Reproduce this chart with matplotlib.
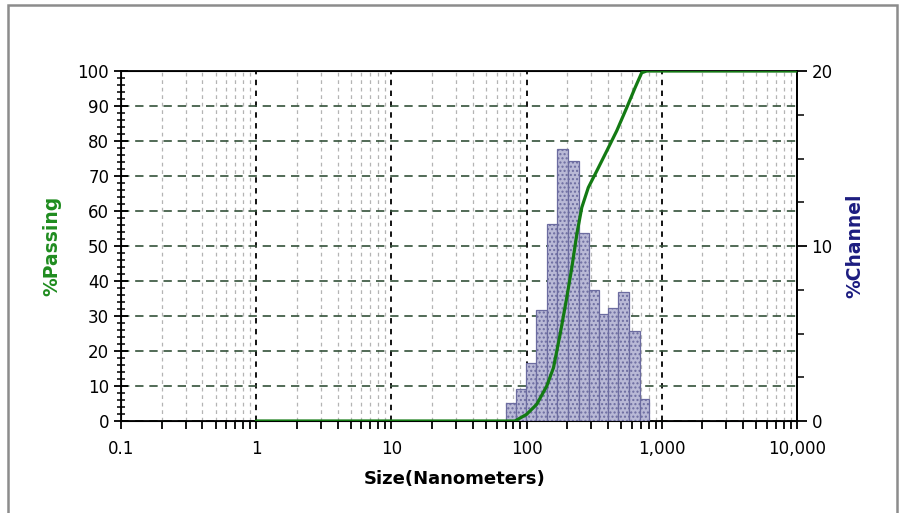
import numpy as np
import matplotlib
matplotlib.use("Agg")
import matplotlib.pyplot as plt
from matplotlib.ticker import FixedLocator, FuncFormatter, MultipleLocator
from matplotlib.patches import Rectangle

# channel bins (nm)
bin_edges = [70.4, 83.5, 99.1, 117.6, 142.0, 169.0, 203.0, 243.0, 289.0,
             343.0, 402.0, 476.0, 575.0, 685.0, 805.0]
channel = [1.05, 1.81, 3.33, 6.33, 11.24, 15.52, 14.86, 10.76, 7.47,
           6.10, 6.47, 7.37, 5.14, 1.24]

# cumulative % passing curve
size_nm = [1, 70, 82, 100, 119, 141, 158, 177, 198, 216, 235, 256, 286,
           330, 391, 464, 550, 634, 710, 773, 10000]
passing = [0, 0, 0, 1.9, 4.8, 10.0, 15.2, 24.8, 35.2, 43.8, 53.3, 61.0,
           66.7, 71.4, 77.1, 82.9, 89.5, 95.2, 99.5, 100, 100]

x_ticks = [0.1, 1, 10, 100, 1000, 10000]
x_labels = ["0.1", "1", "10", "100", "1,000", "10,000"]

plt.rcParams["font.family"] = ["DejaVu Sans"]

fig = plt.figure(figsize=(9.01, 5.13), dpi=100)
ax = fig.add_axes([121 / 901, 92 / 513, 676 / 901, 350 / 513])

# grey window frame
fig.patches.append(Rectangle((8 / 901, -0.1), 889 / 901, 1.1 - 5 / 513,
                             transform=fig.transFigure, fill=False,
                             edgecolor="#8c8c8c", linewidth=1.8))

ax.set_xscale("log")
ax.set_xlim(0.1, 10000)
ax.set_ylim(0, 100)
ax.xaxis.set_major_locator(FixedLocator(x_ticks))
ax.xaxis.set_major_formatter(FuncFormatter(lambda v, p: x_labels[x_ticks.index(v)] if v in x_ticks else ""))
ax.xaxis.set_minor_formatter(FuncFormatter(lambda v, p: ""))
ax.yaxis.set_major_locator(MultipleLocator(10))
ax.yaxis.set_minor_locator(MultipleLocator(2))
ax.tick_params(axis="x", which="both", direction="out", length=6, width=1.3,
               labelsize=12, pad=8)
ax.tick_params(axis="y", which="major", direction="inout", length=10, width=1.3,
               labelsize=12)
ax.tick_params(axis="y", which="minor", direction="inout", length=6, width=1.1)

# grids
ax.grid(True, which="major", axis="x", color="black", linestyle=(0, (3, 3)), linewidth=1.3)
ax.grid(True, which="minor", axis="x", color="#b4b4b4", linestyle=(0, (3, 3)), linewidth=0.9)
ax.grid(True, which="major", axis="y", color="#34523a", linestyle=(0, (5, 3.5)), linewidth=1.2)
for s in ax.spines.values():
    s.set_linewidth(1.3)

# histogram on right axis
ax2 = ax.twinx()
ax2.set_ylim(0, 20)
left = bin_edges[:-1]
widths = np.diff(bin_edges)
ax2.bar(left, channel, width=widths, align="edge", color="#b9b9d6",
        edgecolor="#6c6ca0", linewidth=0.9, hatch="....", zorder=2)
ax2.yaxis.set_major_locator(FixedLocator([0, 10, 20]))
ax2.yaxis.set_minor_locator(MultipleLocator(2.5))
ax2.tick_params(axis="y", which="both", left=False)
ax2.tick_params(axis="y", which="major", direction="out", length=7, width=1.3, labelsize=12)
ax2.tick_params(axis="y", which="minor", direction="out", length=5, width=1.1)
ax2.spines["right"].set_linewidth(1.3)

# passing curve on top
ax3 = ax.twinx()
ax3.set_ylim(0, 100)
ax3.plot(size_nm, passing, color="#137a13", linewidth=2.3, solid_capstyle="round", zorder=5)
ax3.axis("off")

ax.set_xlabel("Size(Nanometers)", fontsize=13, fontweight="bold")
ax.xaxis.set_label_coords(0.494, -0.14)
ax.set_ylabel("%Passing", fontsize=13.5, fontweight="bold", color="#1f8c1f")
ax.yaxis.set_label_coords(-0.088, 0.5)
ax2.set_ylabel("%Channel", fontsize=13.5, fontweight="bold", color="#1c1c80")
ax2.yaxis.set_label_coords(1.071, 0.5)

fig.savefig("out.png", dpi=100)
